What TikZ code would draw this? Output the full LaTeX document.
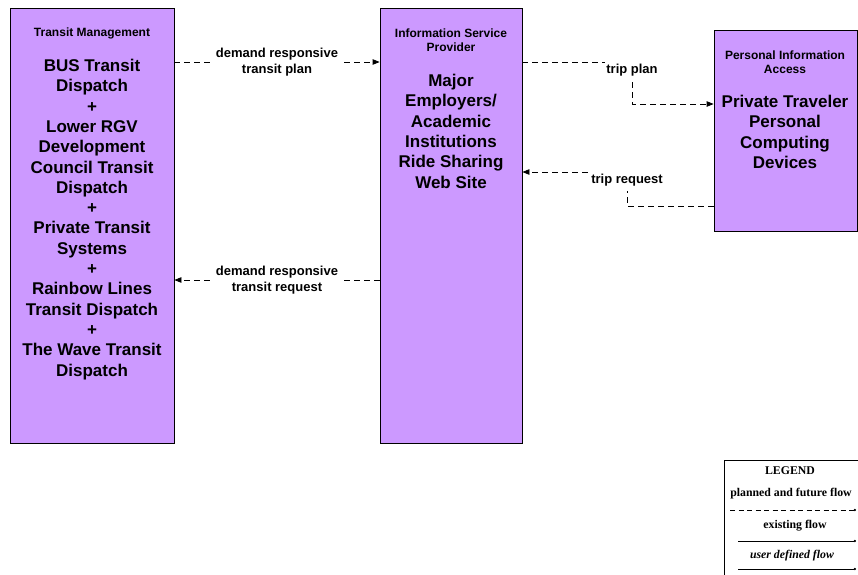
\documentclass[tikz,border=0pt]{standalone}
\usepackage{fontspec}
\setmainfont{Liberation Sans}
\newfontfamily\legendfont{Liberation Serif}
\usetikzlibrary{arrows.meta,positioning}
\definecolor{ervlilac}{HTML}{CC99FF}

\begin{document}
\begin{tikzpicture}[
    x=1pt, y=-1pt,
    every node/.style={font=\bfseries},
    entity/.style={draw=black, line width=0.8pt, rectangle, fill=ervlilac,
                   inner sep=0pt},
    enttitle/.style={font=\fontsize{12}{14}\selectfont\bfseries, align=center,
                     inner sep=0pt},
    entbody/.style={font=\fontsize{17}{20.3}\selectfont\bfseries, align=center,
                    inner sep=0pt, anchor=north},
    flow/.style={-{Triangle[length=7pt,width=5.5pt]}, line width=0.8pt,
                 dash pattern=on 6pt off 4pt},
    flowlabel/.style={font=\fontsize{13}{16}\selectfont\bfseries, align=center,
                      fill=white, inner sep=1.5pt},
    legendtext/.style={font=\legendfont\fontsize{11.8}{13}\selectfont\bfseries,
                       inner sep=0pt},
    legendline/.style={line width=0.8pt, -{Circle[length=2.2pt]}}
]
\useasboundingbox (0,0) rectangle (858,574);

% --- Subsystems ---
\node[entity, minimum width=164pt, minimum height=435pt] (tm) at (92,225.5) {};
\node[enttitle] (tmtitle) at (92,33) {Transit Management};
\node[entbody] (tmbody) at (92,59) {BUS Transit\\Dispatch\\+\\Lower RGV\\Development\\
    Council Transit\\Dispatch\\+\\Private Transit\\Systems\\+\\Rainbow Lines\\
    Transit Dispatch\\+\\The Wave Transit\\Dispatch};

\node[entity, minimum width=142pt, minimum height=435pt] (isp) at (451,225.5) {};
\node[enttitle] (isptitle) at (451,40) {Information Service\\Provider};
\node[entbody] (ispbody) at (451,74) {Major\\Employers/\\Academic\\Institutions\\
    Ride Sharing\\Web Site};

\node[entity, minimum width=143pt, minimum height=201pt] (pia) at (785.5,130.5) {};
\node[enttitle] (piatitle) at (785,62) {Personal Information\\Access};
\node[entbody] (piabody) at (785,95) {Private Traveler\\Personal\\Computing\\Devices};

% --- Flows ---
\coordinate (plan) at (0,62);
\coordinate (req) at (0,280);
\draw[flow] (tm.east |- plan) -- node[flowlabel] {demand responsive\\transit plan}
            (isp.west |- plan);
\draw[flow] (isp.west |- req) -- node[flowlabel] {demand responsive\\transit request}
            (tm.east |- req);

\coordinate (tpknee) at (632,62);
\coordinate (tpin) at (0,104);
\draw[flow] (isp.east |- tpknee) -- (tpknee) |- (pia.west |- tpin);
\node[flowlabel, inner ysep=5pt] (tplabel) at (632,70) {trip plan};

\coordinate (trknee) at (627,206);
\coordinate (trout) at (0,172);
\draw[flow] (pia.west |- trknee) -- (trknee) |- (isp.east |- trout);
\node[flowlabel, inner ysep=5pt] (trlabel) at (627,180) {trip request};

% --- Legend ---
\node[draw=black, line width=0.8pt, minimum width=140pt, minimum height=120pt,
      anchor=north west, inner sep=0pt] (legend) at (724,460) {};
\node[legendtext] (lgtitle) at (790,471) {LEGEND};
\node[legendtext] (lgplanned) at (791,494) {planned and future flow};
\node[legendtext] (lgexist) at (795,526) {existing flow};
\node[legendtext, font=\legendfont\fontsize{11.8}{13}\selectfont\bfseries\itshape]
     (lguser) at (792,556) {user defined flow};
\coordinate (lgend) at (856,0);
\draw[legendline, dash pattern=on 5pt off 3.5pt] (730,510) -- (lgend |- 0,510);
\draw[legendline] (738,541) -- (lgend |- 0,541);
\draw[legendline] (738,569) -- (lgend |- 0,569);

\end{tikzpicture}
\end{document}
